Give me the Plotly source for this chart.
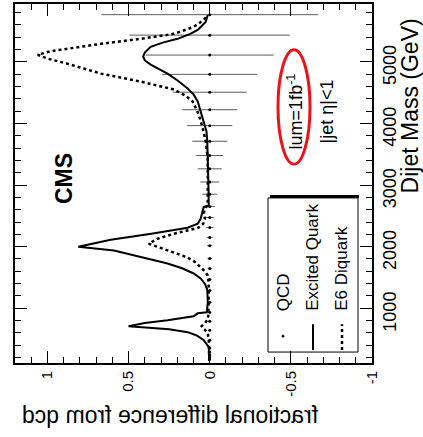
import plotly.graph_objects as go

# ---------------- data ----------------
qcd_mass = [177, 210, 242, 290, 355, 484, 645, 790, 935, 1097, 1290, 1468, 1645, 1806,
            2016, 2150, 2311, 2473, 2650, 2850, 3049, 3263, 3479, 3710, 3963, 4221,
            4505, 4795, 5108, 5431, 5763]
qcd_frac = [0.0] * 31
qcd_err = [0.004, 0.004, 0.004, 0.005, 0.005, 0.006, 0.007, 0.008, 0.009, 0.010, 0.011,
           0.012, 0.013, 0.014, 0.016, 0.018, 0.022, 0.025, 0.031, 0.046, 0.059, 0.074,
           0.083, 0.108, 0.139, 0.170, 0.228, 0.293, 0.395, 0.494, 0.667]

eq_mass = [150, 250, 371, 484, 560, 613, 660, 710, 760, 806, 871, 919, 935, 1100, 1300,
           1400, 1484, 1565, 1650, 1726, 1850, 1936, 2000, 2040, 2081, 2113, 2210, 2306,
           2371, 2452, 2645, 2661, 3000, 3400, 3700, 3870, 3952, 4100, 4194, 4355, 4470,
           4565, 4700, 4807, 4952, 5020, 5081, 5150, 5242, 5310, 5371, 5450, 5516, 5645,
           5758]
eq_frac = [0.003, 0.004, 0.006, 0.037, 0.080, 0.136, 0.250, 0.500, 0.400, 0.260, 0.100,
           0.074, 0.018, 0.012, 0.015, 0.030, 0.056, 0.099, 0.170, 0.260, 0.450, 0.590,
           0.810, 0.740, 0.670, 0.610, 0.360, 0.136, 0.074, 0.056, 0.037, 0.006, 0.008,
           0.010, 0.015, 0.020, 0.030, 0.045, 0.056, 0.074, 0.100, 0.136, 0.200, 0.260,
           0.364, 0.400, 0.410, 0.400, 0.364, 0.290, 0.198, 0.120, 0.074, 0.025, 0.012]

dq_mass = [150, 300, 484, 600, 660, 710, 760, 820, 900, 1100, 1300, 1450, 1532, 1600,
           1661, 1750, 1823, 1935, 2000, 2048, 2129, 2210, 2306, 2371, 2450, 2550, 2620,
           2680, 3000, 3436, 3710, 3920, 4145, 4355, 4450, 4549, 4678, 4807, 4968, 5050,
           5113, 5170, 5210, 5290, 5371, 5452, 5565, 5678, 5758]
dq_frac = [0.003, 0.004, 0.006, 0.012, 0.030, 0.050, 0.030, 0.012, 0.008, 0.006, 0.006,
           0.008, 0.012, 0.030, 0.056, 0.090, 0.136, 0.260, 0.330, 0.376, 0.320, 0.220,
           0.070, 0.040, 0.030, 0.035, 0.030, 0.012, 0.012, 0.012, 0.025, 0.043, 0.068,
           0.105, 0.150, 0.220, 0.426, 0.670, 0.877, 1.000, 1.060, 0.980, 0.877, 0.670,
           0.426, 0.220, 0.099, 0.037, 0.012]

frac_ticks = [1, 0.5, 0, -0.5, -1]
frac_labels = ["1", "0.5", "0", "-0.5", "-1"]
mass_ticks = [1000, 2000, 3000, 4000, 5000]
mass_labels = ["1000", "2000", "3000", "4000", "5000"]
legend_names = ["QCD", "Excited Quark", "E6 Diquark"]

FONT = "Liberation Sans, Arial, Helvetica, sans-serif"

fig = go.Figure()
fig.add_trace(go.Scatter(
    x=qcd_frac, y=qcd_mass, mode="markers",
    marker=dict(color="black", size=3),
    error_x=dict(type="data", array=qcd_err, visible=True, width=0,
                 thickness=1, color="#5a5a5a"),
    showlegend=False))
fig.add_trace(go.Scatter(x=eq_frac, y=eq_mass, mode="lines",
                         line=dict(color="black", width=2), showlegend=False))
fig.add_trace(go.Scatter(x=dq_frac, y=dq_mass, mode="lines",
                         line=dict(color="black", width=2.5, dash="dot"), showlegend=False))

# px -> paper helpers (plot area: x 15..372, y 2..363)
def px(xp):
    return (xp - 15) / 357.0

def py(yp):
    return (363 - yp) / 361.0

annotations = [
    dict(text="fractional difference from qcd", x=px(170), y=py(415), xref="paper",
         yref="paper", showarrow=False, font=dict(size=23, family=FONT, color="black"),
         xanchor="center", yanchor="middle"),
    dict(text="Dijet Mass (GeV)", x=px(410), y=py(105), xref="paper", yref="paper",
         showarrow=False, textangle=-90, font=dict(size=23, family=FONT, color="black"),
         xanchor="center", yanchor="middle"),
    dict(text="<b>CMS</b>", x=px(64), y=py(178), xref="paper", yref="paper",
         showarrow=False, textangle=-90, font=dict(size=23, family=FONT, color="black"),
         xanchor="center", yanchor="middle"),
    dict(text="lum=1fb<sup>-1</sup>", x=px(295), y=py(110), xref="paper", yref="paper",
         showarrow=False, textangle=-90, font=dict(size=18, family=FONT, color="black"),
         xanchor="center", yanchor="middle"),
    dict(text="|jet η|<1", x=px(327), y=py(110), xref="paper", yref="paper",
         showarrow=False, textangle=-90, font=dict(size=18, family=FONT, color="black"),
         xanchor="center", yanchor="middle"),
]
for name, xc in zip(legend_names, [283, 313, 342]):
    annotations.append(dict(text=name, x=px(xc), y=py(313), xref="paper", yref="paper",
                            showarrow=False, textangle=-90,
                            font=dict(size=17, family=FONT, color="black"),
                            xanchor="center", yanchor="bottom"))

shapes = [
    # red ellipse
    dict(type="circle", xref="paper", yref="paper", x0=px(278), x1=px(310),
         y0=py(163), y1=py(48), line=dict(color="#e8141b", width=3)),
    # legend box + shadow
    dict(type="rect", xref="paper", yref="paper", x0=px(268), x1=px(358),
         y0=py(352), y1=py(197), line=dict(color="black", width=1),
         fillcolor="rgba(0,0,0,0)", layer="below"),
    dict(type="line", xref="paper", yref="paper", x0=px(270), x1=px(359),
         y0=py(195.5), y1=py(195.5), line=dict(color="black", width=3)),
    # legend samples
    dict(type="line", xref="paper", yref="paper", x0=px(313), x1=px(313),
         y0=py(350), y1=py(324), line=dict(color="black", width=2)),
    dict(type="line", xref="paper", yref="paper", x0=px(342), x1=px(342),
         y0=py(350), y1=py(324), line=dict(color="black", width=2.5, dash="dot")),
    dict(type="circle", xref="paper", yref="paper", x0=px(282), x1=px(284),
         y0=py(337), y1=py(335), line=dict(color="black", width=1), fillcolor="black"),
]

fig.update_layout(
    width=423, height=437,
    margin=dict(l=15, r=51, t=2, b=74),
    paper_bgcolor="white", plot_bgcolor="white",
    font=dict(family=FONT, color="black"),
    showlegend=False,
    annotations=annotations,
    shapes=shapes,
    xaxis=dict(range=[1.2, -1.0], tickvals=frac_ticks, ticktext=frac_labels,
               tickangle=-90, ticks="inside", ticklen=12, tickwidth=1, tickcolor="black",
               minor=dict(dtick=0.1, ticks="inside", ticklen=6, tickcolor="black"),
               showline=True, linecolor="black", linewidth=2, mirror="ticks",
               showgrid=False, zeroline=False, tickfont=dict(size=15)),
    yaxis=dict(range=[113, 5936], side="right", tickvals=mass_ticks, ticktext=mass_labels,
               tickangle=-90, ticks="inside", ticklen=12, tickwidth=1, tickcolor="black",
               minor=dict(dtick=200, ticks="inside", ticklen=6, tickcolor="black"),
               showline=True, linecolor="black", linewidth=2, mirror="ticks",
               showgrid=False, zeroline=False, tickfont=dict(size=18),
               ticklabelshift=6),
)

post = ("var s=document.createElement('style');"
        "s.textContent='g.annotation[data-index=\"0\"] text.annotation-text"
        "{transform-box:fill-box;transform-origin:center;transform:scaleX(-1);}';"
        "document.head.appendChild(s);")
fig.write_html("out.html", post_script=post)
